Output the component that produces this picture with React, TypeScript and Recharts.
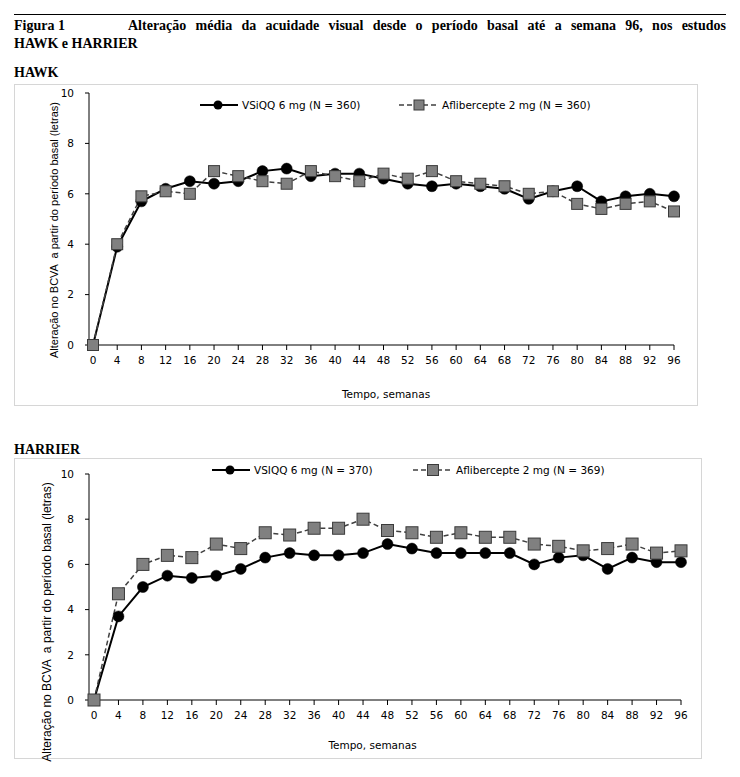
import React from 'react';
import { LineChart, Line, XAxis, YAxis, Legend, Label } from 'recharts';

const weeks = [0, 4, 8, 12, 16, 20, 24, 28, 32, 36, 40, 44, 48, 52, 56, 60, 64, 68, 72, 76, 80, 84, 88, 92, 96];
const hawkVsiqq = [0, 3.9, 5.7, 6.2, 6.5, 6.4, 6.5, 6.9, 7.0, 6.7, 6.8, 6.8, 6.6, 6.4, 6.3, 6.4, 6.3, 6.2, 5.8, 6.1, 6.3, 5.7, 5.9, 6.0, 5.9];
const hawkAfli = [0, 4.0, 5.9, 6.1, 6.0, 6.9, 6.7, 6.5, 6.4, 6.9, 6.7, 6.5, 6.8, 6.6, 6.9, 6.5, 6.4, 6.3, 6.0, 6.1, 5.6, 5.4, 5.6, 5.7, 5.3];
const harrierVsiqq = [0, 3.7, 5.0, 5.5, 5.4, 5.5, 5.8, 6.3, 6.5, 6.4, 6.4, 6.5, 6.9, 6.7, 6.5, 6.5, 6.5, 6.5, 6.0, 6.3, 6.4, 5.8, 6.3, 6.1, 6.1];
const harrierAfli = [0, 4.7, 6.0, 6.4, 6.3, 6.9, 6.7, 7.4, 7.3, 7.6, 7.6, 8.0, 7.5, 7.4, 7.2, 7.4, 7.2, 7.2, 6.9, 6.8, 6.6, 6.7, 6.9, 6.5, 6.6];
const yTicks = [0, 2, 4, 6, 8, 10];
const hawkLegend = ['VSiQQ 6 mg (N = 360)', 'Aflibercepte 2 mg (N = 360)'];
const harrierLegend = ['VSIQQ 6 mg (N = 370)', 'Aflibercepte 2 mg (N = 369)'];
const yLabelText = 'Alteração no BCVA  a partir do período basal (letras)';
const xLabelText = 'Tempo, semanas';
const titleNum = 'Figura 1';
const titleLine1 = 'Alteração média da acuidade visual desde o período basal até a semana 96, nos estudos';
const titleLine2 = 'HAWK e HARRIER';
const hawkName = 'HAWK';
const harrierName = 'HARRIER';

const SANS = '"DejaVu Sans", Verdana, sans-serif';
const SERIF = '"Liberation Serif", "Times New Roman", serif';

const buildData = (a: number[], b: number[]) => weeks.map((w, i) => ({ week: w, vs: a[i], af: b[i] }));

const circleDot = (r: number) => (props: any) => {
  const { cx, cy, index } = props;
  return <circle key={`c${index}`} cx={cx} cy={cy} r={r} fill="#000" stroke="#000" strokeWidth={0.5} />;
};
const squareDot = (s: number) => (props: any) => {
  const { cx, cy, index } = props;
  return <rect key={`s${index}`} x={cx - s / 2} y={cy - s / 2} width={s} height={s} fill="#808080" stroke="#3a3a3a" strokeWidth={1} />;
};

function LegendBox({ labels, gap2, sq }: { labels: string[]; gap2: number; sq: number }) {
  return (
    <div style={{ height: 0, overflow: 'visible', position: 'relative' }}>
      <div style={{ position: 'absolute', left: 0, top: 0, display: 'flex', alignItems: 'center', height: 14, fontFamily: SANS, fontSize: 10.5, color: '#000', whiteSpace: 'nowrap' }}>
        <div style={{ display: 'flex', alignItems: 'center', width: gap2 }}>
          <svg width={38} height={14}>
            <line x1={0} y1={7} x2={38} y2={7} stroke="#000" strokeWidth={2} />
            <circle cx={18} cy={7} r={4.5} fill="#000" />
          </svg>
          <span style={{ marginLeft: 4 }}>{labels[0]}</span>
        </div>
        <div style={{ display: 'flex', alignItems: 'center' }}>
          <svg width={40} height={14}>
            <line x1={0} y1={7} x2={40} y2={7} stroke="#404040" strokeWidth={1.5} strokeDasharray="5 3" />
            <rect x={20 - sq / 2} y={7 - sq / 2} width={sq} height={sq} fill="#808080" stroke="#3a3a3a" />
          </svg>
          <span style={{ marginLeft: 3 }}>{labels[1]}</span>
        </div>
      </div>
    </div>
  );
}

type PanelProps = {
  left: number; top: number; width: number; height: number;
  mTop: number; mRight: number; xAxisH: number; padLeft: number;
  data: any[]; labels: string[]; legendLeft: number; legendTop: number; gap2: number;
  sq: number; r: number; xLabelDx: number; xLabelOffset: number;
  yLab: { x: number; y: number; size: number };
};

function Panel(p: PanelProps) {
  return (
    <>
      <div style={{ position: 'absolute', left: p.left, top: p.top, width: p.width, height: p.height, boxSizing: 'border-box', border: '1px solid #d6d6d6' }} />
      <div style={{ position: 'absolute', left: p.left, top: p.top }}>
        <LineChart width={p.width} height={p.height} data={p.data} margin={{ top: p.mTop, right: p.mRight, left: 0, bottom: 0 }}>
          <XAxis
            dataKey="week" type="number" domain={[0, 96]} ticks={weeks} interval={0}
            padding={{ left: p.padLeft, right: 0 }} height={p.xAxisH}
            stroke="#000" tickSize={5} tickMargin={7}
            tick={{ fill: '#000', fontSize: 10.5, fontFamily: SANS }}
          >
            <Label value={xLabelText} position="insideBottom" offset={p.xLabelOffset} dx={p.xLabelDx}
              style={{ fill: '#000', fontSize: 10.5, fontFamily: SANS }} />
          </XAxis>
          <YAxis
            type="number" domain={[0, 10]} ticks={yTicks} interval={0} width={75}
            stroke="#000" tickSize={4} tickMargin={11}
            tick={{ fill: '#000', fontSize: 10.5, fontFamily: SANS }}
          />
          <Legend
            verticalAlign="top"
            height={0}
            wrapperStyle={{ left: p.legendLeft, top: p.legendTop, width: 'auto', height: 0, overflow: 'visible' }}
            content={() => <LegendBox labels={p.labels} gap2={p.gap2} sq={p.sq - 1} />}
          />
          <Line dataKey="vs" stroke="#000" strokeWidth={2} dot={circleDot(p.r)} isAnimationActive={false} />
          <Line dataKey="af" stroke="#404040" strokeWidth={1.5} strokeDasharray="5 3" dot={squareDot(p.sq)} isAnimationActive={false} />
        </LineChart>
      </div>
      <div style={{
        position: 'absolute', left: p.yLab.x, top: p.yLab.y, transform: 'translate(-50%, -50%) rotate(-90deg)',
        whiteSpace: 'pre', fontFamily: '"Liberation Sans", Arial, sans-serif', fontSize: p.yLab.size, color: '#000', lineHeight: 1,
      }}>{yLabelText}</div>
    </>
  );
}

export default function App() {
  const hawkData = buildData(hawkVsiqq, hawkAfli);
  const harrierData = buildData(harrierVsiqq, harrierAfli);
  return (
    <div style={{ position: 'absolute', left: 0, top: 0, width: 740, height: 777, background: '#fff', overflow: 'hidden' }}>
      <div style={{ position: 'absolute', left: 14, top: 14, width: 712, borderTop: '1px solid #000' }} />
      <div style={{ position: 'absolute', left: 14, top: 17, width: 712, fontFamily: SERIF, fontWeight: 'bold', fontSize: 14, lineHeight: '18px', color: '#000' }}>
        <div style={{ display: 'flex', whiteSpace: 'nowrap' }}>
          <span style={{ width: 114, flex: 'none' }}>{titleNum}</span>
          <span style={{ flex: 1, textAlign: 'justify', textAlignLast: 'justify', whiteSpace: 'normal' }}>{titleLine1}</span>
        </div>
        <div>{titleLine2}</div>
      </div>
      <div style={{ position: 'absolute', left: 14, top: 65, fontFamily: SERIF, fontWeight: 'bold', fontSize: 14, color: '#000' }}>{hawkName}</div>
      <div style={{ position: 'absolute', left: 14, top: 442, fontFamily: SERIF, fontWeight: 'bold', fontSize: 14, color: '#000' }}>{harrierName}</div>
      <Panel
        left={14} top={84} width={684} height={322} mTop={9} mRight={24} xAxisH={61} padLeft={4}
        data={hawkData} labels={hawkLegend} legendLeft={186} legendTop={14} gap2={199}
        sq={11} r={5.5} xLabelDx={4.5} xLabelOffset={8.5}
        yLab={{ x: 54, y: 230, size: 11 }}
      />
      <Panel
        left={14} top={458} width={688} height={301} mTop={16} mRight={21} xAxisH={59} padLeft={5}
        data={harrierData} labels={harrierLegend} legendLeft={198} legendTop={5} gap2={201}
        sq={12} r={5.5} xLabelDx={-12.5} xLabelOffset={10.5}
        yLab={{ x: 47, y: 622, size: 12 }}
      />
    </div>
  );
}
